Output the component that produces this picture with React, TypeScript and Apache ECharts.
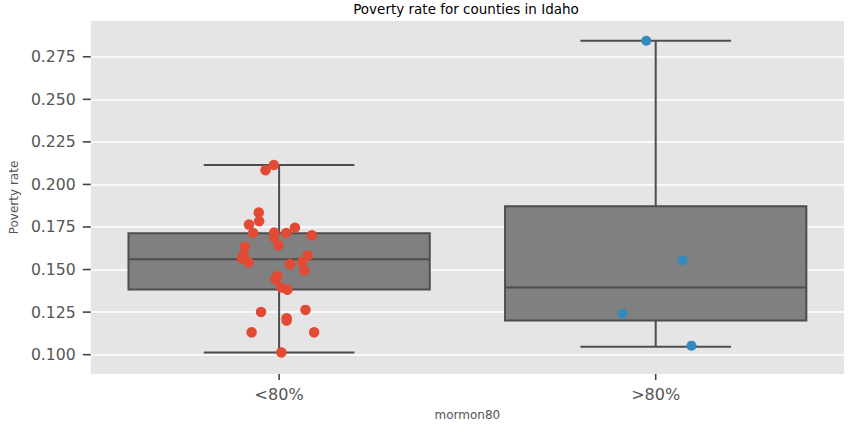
import React, { useEffect, useRef } from "react";
import * as echarts from "echarts";

const categories = ["<80%", ">80%"];
// [min whisker, Q1, median, Q3, max whisker]
const boxStats = [
  [0.1012, 0.1383, 0.156, 0.1713, 0.2114],
  [0.1047, 0.12, 0.1395, 0.1872, 0.2844],
];
const lowValues = [
  0.2114, 0.2084, 0.1835, 0.1784, 0.1764, 0.1715, 0.1717, 0.1746, 0.1715, 0.1701,
  0.1688, 0.1642, 0.1633, 0.1583, 0.1564, 0.1542, 0.1583, 0.1544, 0.1532, 0.1495,
  0.1461, 0.1442, 0.1395, 0.1381, 0.1251, 0.1263, 0.1214, 0.12, 0.1131, 0.1131, 0.1013,
];
const lowJitter = [
  -0.014, -0.036, -0.054, -0.053, -0.08, -0.069, -0.013, 0.042, 0.019, 0.087,
  -0.013, -0.002, -0.091, -0.095, -0.098, -0.081, 0.076, 0.061, 0.029, 0.067,
  -0.005, -0.01, 0.006, 0.022, -0.048, 0.07, 0.02, 0.02, -0.073, 0.093, 0.006,
];
const highValues = [0.2844, 0.1554, 0.1242, 0.1053];
const highJitter = [-0.025, 0.071, -0.088, 0.095];
const yTicks = [0.1, 0.125, 0.15, 0.175, 0.2, 0.225, 0.25, 0.275];

const FONT = "DejaVu Sans";
const EDGE = "#4d4d4d";
const TICK = "#444";

export default function App() {
  const ref = useRef<HTMLDivElement>(null);
  useEffect(() => {
    const chart = echarts.init(ref.current!, null, { renderer: "svg" });
    chart.setOption({
      animation: false,
      backgroundColor: "#ffffff",
      title: {
        text: "Poverty rate for counties in Idaho",
        left: 466,
        textAlign: "center",
        top: 2,
        padding: 0,
        textStyle: { fontFamily: FONT, fontSize: 13.5, fontWeight: "normal", color: "#000" },
      },
      grid: {
        left: 89,
        right: 20,
        top: 21,
        bottom: 58,
        show: true,
        backgroundColor: "#e5e5e5",
        borderWidth: 0,
      },
      xAxis: [
        {
          type: "category",
          data: categories,
          name: "mormon80",
          nameLocation: "middle",
          nameGap: 35,
          nameTextStyle: { fontFamily: FONT, fontSize: 12, color: "#555" },
          axisLine: { show: false, onZero: false },
          axisTick: { show: false },
          axisLabel: { fontFamily: FONT, fontSize: 16, color: "#555", margin: 12 },
          splitLine: { show: false },
        },
        { type: "value", min: -0.5, max: 1.5, show: false },
      ],
      yAxis: {
        type: "value",
        position: "left",
        min: 0.08864,
        max: 0.29601,
        name: "Poverty rate",
        nameLocation: "middle",
        nameGap: 60,
        nameTextStyle: { fontFamily: FONT, fontSize: 12, color: "#555" },
        axisLine: { show: false, onZero: false },
        axisTick: { show: false, customValues: yTicks },
        axisLabel: {
          fontFamily: FONT,
          fontSize: 15.7,
          color: "#555",
          margin: 15,
          customValues: yTicks,
          formatter: (v: number) => v.toFixed(3),
        },
        splitLine: { show: true, lineStyle: { color: "#ffffff", width: 1.5 } },
      },
      series: [
        {
          type: "custom",
          xAxisIndex: 0,
          data: boxStats.map((s, i) => [i, ...s]),
          encode: { x: 0, y: [1, 2, 3, 4, 5] },
          renderItem: (params: any, api: any) => {
            const c = api.value(0);
            const pMin = api.coord([c, api.value(1)]);
            const pQ1 = api.coord([c, api.value(2)]);
            const pMed = api.coord([c, api.value(3)]);
            const pQ3 = api.coord([c, api.value(4)]);
            const pMax = api.coord([c, api.value(5)]);
            const band = api.size([1, 0])[0];
            const half = band * 0.4;
            const cap = band * 0.2;
            const x = pMed[0];
            const ls = { stroke: EDGE, lineWidth: 2 };
            return {
              type: "group",
              children: [
                { type: "line", shape: { x1: x, y1: pQ1[1], x2: x, y2: pMin[1] }, style: ls },
                { type: "line", shape: { x1: x, y1: pQ3[1], x2: x, y2: pMax[1] }, style: ls },
                { type: "line", shape: { x1: x - cap, y1: pMin[1], x2: x + cap, y2: pMin[1] }, style: ls },
                { type: "line", shape: { x1: x - cap, y1: pMax[1], x2: x + cap, y2: pMax[1] }, style: ls },
                {
                  type: "rect",
                  shape: { x: x - half, y: pQ3[1], width: half * 2, height: pQ1[1] - pQ3[1] },
                  style: { fill: "#808080", stroke: EDGE, lineWidth: 2 },
                },
                { type: "line", shape: { x1: x - half, y1: pMed[1], x2: x + half, y2: pMed[1] }, style: ls },
              ],
            };
          },
          z: 2,
        },
        {
          // y-axis tick marks, placed through the y scale
          type: "custom",
          xAxisIndex: 0,
          clip: false,
          silent: true,
          data: yTicks.map((v) => [0, v]),
          encode: { x: 0, y: 1 },
          renderItem: (params: any, api: any) => {
            const p = api.coord([0, api.value(1)]);
            const x0 = params.coordSys.x;
            return {
              type: "line",
              shape: { x1: x0 - 8, y1: p[1], x2: x0, y2: p[1] },
              style: { stroke: TICK, lineWidth: 1.6 },
            };
          },
          z: 5,
        },
        {
          // x-axis tick marks, placed through the category scale
          type: "custom",
          xAxisIndex: 0,
          clip: false,
          silent: true,
          data: categories.map((_, i) => [i, 0.1]),
          encode: { x: 0, y: 1 },
          renderItem: (params: any, api: any) => {
            const p = api.coord([api.value(0), 0.1]);
            const y0 = params.coordSys.y + params.coordSys.height;
            return {
              type: "line",
              shape: { x1: p[0], y1: y0, x2: p[0], y2: y0 + 6 },
              style: { stroke: TICK, lineWidth: 1.6 },
            };
          },
          z: 5,
        },
        {
          type: "scatter",
          xAxisIndex: 1,
          symbolSize: 10.5,
          itemStyle: { color: "#e24a33", opacity: 1 },
          data: lowValues.map((v, i) => [0 + lowJitter[i], v]),
          z: 3,
        },
        {
          type: "scatter",
          xAxisIndex: 1,
          symbolSize: 10,
          itemStyle: { color: "#348abd", opacity: 1 },
          data: highValues.map((v, i) => [1 + highJitter[i], v]),
          z: 3,
        },
      ],
    });
    return () => chart.dispose();
  }, []);
  return (
    <div
      ref={ref}
      style={{ position: "fixed", left: 0, top: 0, width: 864, height: 432 }}
    />
  );
}
